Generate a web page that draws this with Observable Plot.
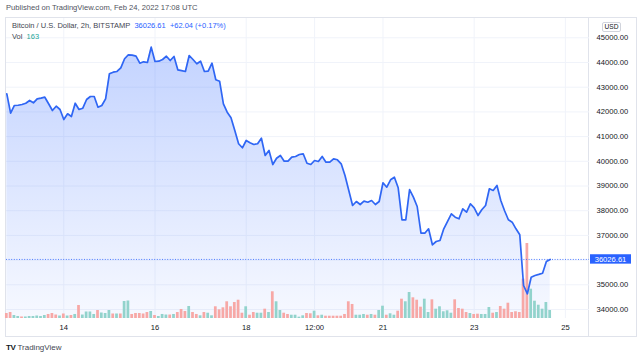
<!DOCTYPE html>
<html><head><meta charset="utf-8">
<script src="https://cdn.jsdelivr.net/npm/d3@7"></script>
<script src="https://cdn.jsdelivr.net/npm/@observablehq/plot@0.6"></script>
<style>
body{margin:0;background:#fff;font-family:"Liberation Sans",Arial,sans-serif;}
#wrap{position:relative;width:640px;height:358px;overflow:hidden;background:#fff;}
.layer{position:absolute;left:0;top:0;}
.abs{position:absolute;white-space:nowrap;line-height:1;}
</style></head><body>
<div id="wrap">
  <div id="frame" class="abs" style="left:5px;top:17px;width:630px;height:318px;border:1px solid #e0e3eb;"></div>
  <div id="sep" class="abs" style="left:588px;top:17px;width:1px;height:319px;background:#e0e3eb;"></div>
  <div id="layers"></div>
  <div id="published" class="abs" style="left:6px;top:4px;font-size:7.6px;color:#50535e;"></div>
  <div id="legend1" class="abs" style="left:12px;top:22px;font-size:7.5px;color:#434651;"></div>
  <div id="legend2" class="abs" style="left:12px;top:33px;font-size:7.5px;color:#434651;"></div>
  <div id="usd" class="abs" style="left:602px;top:22px;width:17px;height:8px;border:1px solid #d1d4dc;border-radius:2px;font-size:6.6px;color:#131722;text-align:center;line-height:8px;"></div>
  <div id="logo" class="abs" style="left:6px;top:344px;font-size:8px;color:#434651;"></div>
</div>
<script>
// ---- data ----
const startTime = "2022-02-12T18:00:00Z"; // first 2h bar
const barHours = 2;
const prices = [
  42733, 41947, 42259, 42270, 42300, 42352, 42462, 42368, 42530, 42560,
  42595, 42330, 42057, 42231, 42097, 41692, 41923, 41814, 42352, 42097,
  42150, 42502, 42624, 42624, 42190, 42259, 42530, 43543, 43607, 43636,
  43785, 44150, 44312, 44296, 44255, 43972, 44028, 44000, 44620, 44040,
  44053, 44121, 44255, 44081, 44243, 43704, 43670, 43636, 44283, 44121,
  43947, 44053, 43636, 43648, 43972, 43300, 43243, 42328, 41988, 41761,
  41247, 40709, 40547, 40842, 40749, 40680, 40709, 40935, 40235, 40437,
  39870, 40125, 40235, 40004, 40004, 40166, 40194, 40275, 40304, 39923,
  39870, 40033, 39992, 40194, 39964, 39964, 40100, 40061, 39899, 39425,
  38818, 38211, 38372, 38251, 38385, 38344, 38413, 38251, 38372, 39130,
  38952, 39251, 39356, 38927, 37632, 37632, 38858, 38547, 38170, 37089,
  37089, 37267, 36619, 36753, 36794, 37267, 37570, 37874, 37737, 37672,
  38077, 37940, 38280, 38117, 37806, 38036, 38211, 38887, 38818, 39020,
  38413, 38000, 37632, 37535, 37267, 37024, 34972, 34636, 35308, 35377,
  35420, 35470, 35943, 36026.61
];
const volumes = [
  102,122,61,41,31,31,41,41,51,41,
  61,82,102,71,51,92,51,61,82,265,
  71,133,133,82,163,112,102,163,92,92,
  92,347,357,82,102,102,92,122,143,61,
  41,82,71,71,82,122,184,143,245,122,
  82,55,122,108,55,239,177,218,341,239,
  326,373,108,239,67,122,108,108,190,122,
  545,341,163,108,82,67,67,27,55,102,
  96,149,55,67,47,47,47,47,47,82,
  341,286,67,67,82,67,82,67,163,251,
  67,96,67,149,394,341,530,422,373,231,
  394,122,381,190,239,137,157,108,381,204,
  190,122,102,82,88,82,82,224,108,122,
  245,190,312,122,137,122,802,1530,598,353,
  271,190,326,163
];
const volumeUp = [
  0,0,1,1,0,1,1,1,1,1,
  1,0,0,0,1,0,1,0,1,0,
  1,1,1,1,0,1,1,1,0,1,
  0,1,1,0,0,0,0,0,1,0,
  1,1,1,0,1,0,0,0,1,0,
  0,1,0,1,1,0,0,0,0,0,
  0,0,0,1,0,0,1,1,0,1,
  0,1,1,0,0,1,1,1,1,0,
  0,1,0,1,0,0,0,0,0,0,
  0,0,1,1,1,0,1,0,1,1,
  0,1,1,0,0,1,1,0,0,0,
  1,1,0,1,1,1,1,1,0,0,
  0,0,1,0,0,1,1,1,0,1,
  0,0,0,0,0,0,0,0,1,1,
  1,1,1,1
];
const priceTicks = [34000,35000,36000,37000,38000,39000,40000,41000,42000,43000,44000,45000];
const timeTicks = ["2022-02-14T00:00:00Z","2022-02-16T00:00:00Z","2022-02-18T00:00:00Z","2022-02-19T12:00:00Z","2022-02-21T00:00:00Z","2022-02-23T00:00:00Z","2022-02-25T00:00:00Z"];
const timeTickLabels = ["14","16","18","12:00","21","23","25"];
const xDomain = ["2022-02-12T17:50:00Z","2022-02-25T12:42:00Z"];
const yDomain = [33636, 45781];
const volumeDomain = [0, 6120];
const lastPrice = 36026.61;
const changeText = "+62.04 (+0.17%)";
const lastVolume = 163;
const titleText = "Bitcoin / U.S. Dollar, 2h, BITSTAMP";
const publishedText = "Published on TradingView.com, Feb 24, 2022 17:08 UTC";

// ---- build ----
const H = 3600e3;
const t0 = new Date(startTime).getTime();
const rows = prices.map((p, i) => ({t: new Date(t0 + i * barHours * H), price: p, vol: volumes[i], up: volumeUp[i] === 1}));
const tickDates = timeTicks.map(s => new Date(s));
const labelOf = new Map(tickDates.map((d, i) => [+d, timeTickLabels[i]]));
// the last-price badge hides the axis label it would cover
const axisTicks = priceTicks.filter(v => Math.abs(v - lastPrice) > 300);

const common = {
  width: 640, height: 358,
  marginTop: 18, marginBottom: 40, marginLeft: 6, marginRight: 51,
  style: {fontFamily: '"Liberation Sans", Arial, sans-serif', fontSize: "7.6px", color: "#131722", background: "transparent", overflow: "visible"}
};
const xOpt = {type: "utc", domain: xDomain.map(s => new Date(s))};

const defs = () => {
  const d = d3.create("svg:defs");
  const g = d.append("linearGradient").attr("id", "areaGrad").attr("x1", 0).attr("y1", 0).attr("x2", 0).attr("y2", 1);
  g.append("stop").attr("offset", "0%").attr("stop-color", "#2962ff").attr("stop-opacity", 0.28);
  g.append("stop").attr("offset", "100%").attr("stop-color", "#2962ff").attr("stop-opacity", 0.04);
  return d.node();
};

const basePlot = Plot.plot({
  ...common,
  x: {...xOpt, ticks: tickDates, tickFormat: d => labelOf.get(+d) ?? "", tickSize: 0, tickPadding: 6, label: null},
  y: {domain: yDomain, axis: "right", ticks: axisTicks, tickFormat: d => d.toFixed(2), tickSize: 0, tickPadding: 7, label: null},
  marks: [
    defs,
    Plot.ruleY(priceTicks, {stroke: "#f0f3fa", strokeWidth: 1}),
    Plot.ruleX(tickDates, {stroke: "#f0f3fa", strokeWidth: 1}),
    Plot.areaY(rows, {x: "t", y1: () => yDomain[0], y2: "price", fill: "url(#areaGrad)"})
  ]
});
basePlot.classList.add("layer");

const volPlot = Plot.plot({
  ...common,
  x: {...xOpt, axis: null},
  y: {domain: volumeDomain, axis: null},
  color: {type: "identity"},
  marks: [
    Plot.rectY(rows, {
      x1: d => new Date(+d.t - 0.72 * H), x2: d => new Date(+d.t + 0.72 * H),
      y: "vol", fill: d => d.up ? "#92d3cc" : "#f7a8a6"
    })
  ]
});
volPlot.classList.add("layer");

const linePlot = Plot.plot({
  ...common,
  x: {...xOpt, axis: null},
  y: {domain: yDomain, axis: null},
  marks: [
    Plot.ruleY([lastPrice], {stroke: "#2962ff", strokeWidth: 1, strokeDasharray: "1,1.6", strokeOpacity: 0.8}),
    Plot.lineY(rows, {x: "t", y: "price", stroke: "#2f66f4", strokeWidth: 1.7, strokeLinejoin: "round"})
  ]
});
linePlot.classList.add("layer");
// last-price badge on the price scale
const yPix = linePlot.scale("y").apply(lastPrice);
const tsel = d3.select(linePlot);
tsel.append("rect").attr("x", 590).attr("y", yPix - 4.7).attr("width", 41).attr("height", 9.4).attr("fill", "#2962ff");
tsel.append("text").attr("x", 610.5).attr("y", yPix).attr("dy", "0.35em").attr("text-anchor", "middle")
  .attr("fill", "#fff").attr("font-size", "7.6px").text(lastPrice.toFixed(2));

document.getElementById("layers").append(basePlot, volPlot, linePlot);

document.getElementById("published").textContent = publishedText;
document.getElementById("legend1").innerHTML =
  `${titleText}&nbsp;&nbsp;<span style="color:#2962ff">${lastPrice.toFixed(2)}</span>&nbsp;&nbsp;<span style="color:#2962ff">${changeText}</span>`;
document.getElementById("legend2").innerHTML = `Vol&nbsp;&nbsp;<span style="color:#26a69a">${lastVolume}</span>`;
document.getElementById("usd").textContent = "USD";
document.getElementById("logo").innerHTML = `<b style="font-size:8px;color:#131722;letter-spacing:-0.5px">TV</b>&nbsp;TradingView`;
</script>
</body></html>
